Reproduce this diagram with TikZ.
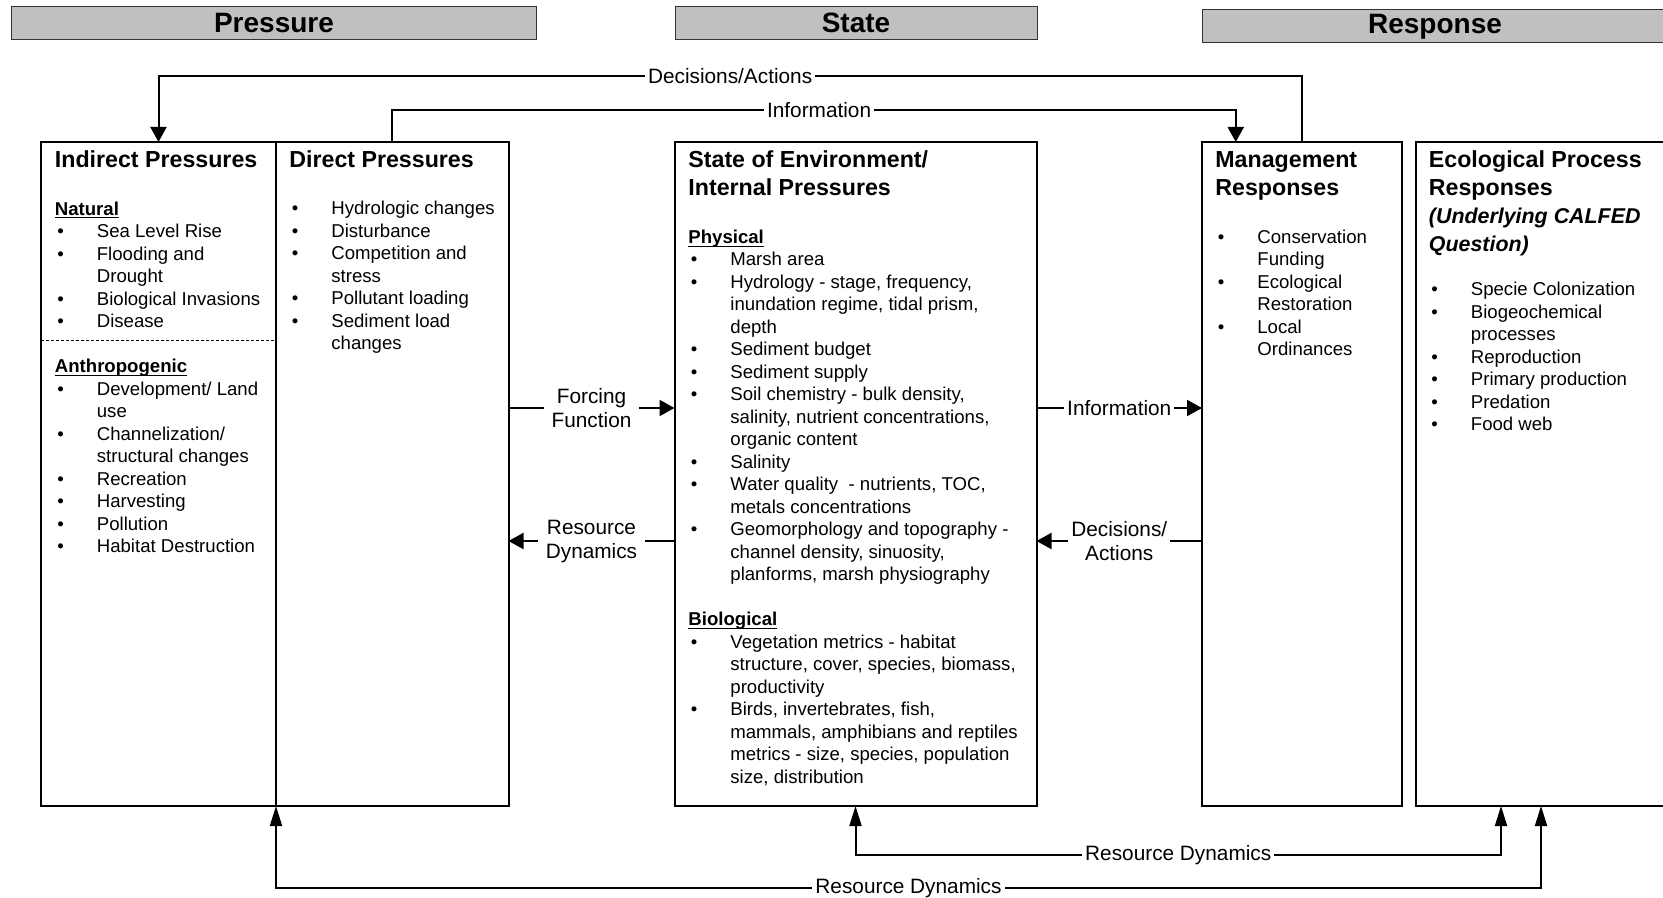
\documentclass[tikz,border=0pt]{standalone}
\usepackage{fontspec}
\setmainfont{Liberation Sans}
\usepackage{xcolor}
\usetikzlibrary{arrows.meta, positioning}

\definecolor{barGray}{HTML}{C0C0C0}

\newcommand{\bodyfont}{\fontsize{9.3}{11.25}\selectfont}
\newcommand{\titlefont}{\fontsize{11.6}{13.85}\selectfont\bfseries}
\newcommand{\notefont}{\fontsize{10.7}{13.85}\selectfont\bfseries\itshape}
\newcommand{\barfont}{\fontsize{14}{16}\selectfont\bfseries}
\newcommand{\lblfont}{\fontsize{10.4}{12}\selectfont}
\newcommand{\bitem}[1]{\hspace*{1.2pt}\makebox[19.8pt][l]{\textbullet}#1}
\newcommand{\bcont}[1]{\hspace*{21pt}#1}
\newcommand{\subhead}[1]{\underline{\smash{\textbf{#1}}}}

\tikzstyle{panel} = [rectangle, draw=black, line width=1pt, outer sep=0pt, inner sep=0pt, minimum height=332pt]
\tikzstyle{bar} = [rectangle, draw=black!80, line width=0.5pt, fill=barGray, minimum height=16.5pt, inner sep=0pt, anchor=north west, font=\barfont]
% multi-line text: base anchor sits on the last line
\tikzstyle{heading} = [anchor=base west, inner sep=0pt, align=left, font=\titlefont]
\tikzstyle{txt} = [anchor=base west, inner sep=0pt, align=left, font=\bodyfont]
\tikzstyle{arrow} = [line width=1pt, -{Triangle[length=7.5pt,width=8pt]}]
\tikzstyle{uparrows} = [line width=1pt, {Triangle[length=10pt,width=6pt]}-{Triangle[length=10pt,width=6pt]}]
\tikzstyle{lbl} = [fill=white, inner xsep=1.5pt, inner ysep=1pt, font=\lblfont, align=center]

\begin{document}
\begin{tikzpicture}[x=0.5pt, y=-0.5pt]
    \useasboundingbox (0,0) rectangle (1663,898);

    % Column headers
    \node[bar, minimum width=262.5pt] (pbar) at (11,6) {Pressure};
    \node[bar, minimum width=181pt] (sbar) at (674.5,6) {State};
    \node[bar, minimum width=232.5pt] (rbar) at (1202,9.5) {Response};

    % Panels
    \node[panel, minimum width=117.5pt, anchor=north west] (ind) at (41,142) {};
    \node[panel, minimum width=116.25pt, right=0pt of ind] (dir) {};
    \node[panel, minimum width=181pt, right=83pt of dir] (st) {};
    \node[panel, minimum width=99.75pt, right=82.75pt of st] (mg) {};
    \node[panel, minimum width=125.5pt, right=7pt of mg] (eco) {};

    \coordinate (split) at (0,341);
    \draw[dash pattern=on 1.5pt off 1pt, line width=0.5pt] (ind.west |- split) -- (ind.east |- split);

    % Panel texts
    \node[heading] (indT) at (54.5,168) {Indirect Pressures};
    \node[txt] (indL) at (54.5,552.5) {\subhead{Natural}\\
        \bitem{Sea Level Rise}\\
        \bitem{Flooding and}\\
        \bcont{Drought}\\
        \bitem{Biological Invasions}\\
        \bitem{Disease}\\[11.25pt]
        \subhead{Anthropogenic}\\
        \bitem{Development/ Land}\\
        \bcont{use}\\
        \bitem{Channelization/}\\
        \bcont{structural changes}\\
        \bitem{Recreation}\\
        \bitem{Harvesting}\\
        \bitem{Pollution}\\
        \bitem{Habitat Destruction}};

    \node[heading] (dirT) at (289,168) {Direct Pressures};
    \node[txt] (dirL) at (289,350) {\bitem{Hydrologic changes}\\
        \bitem{Disturbance}\\
        \bitem{Competition and}\\
        \bcont{stress}\\
        \bitem{Pollutant loading}\\
        \bitem{Sediment load}\\
        \bcont{changes}};

    \node[heading] (stT) at (688,195.7) {State of Environment/\\Internal Pressures};
    \node[txt] (stL) at (688,783.3) {\subhead{Physical}\\
        \bitem{Marsh area}\\
        \bitem{Hydrology - stage, frequency,}\\
        \bcont{inundation regime, tidal prism,}\\
        \bcont{depth}\\
        \bitem{Sediment budget}\\
        \bitem{Sediment supply}\\
        \bitem{Soil chemistry - bulk density,}\\
        \bcont{salinity, nutrient concentrations,}\\
        \bcont{organic content}\\
        \bitem{Salinity}\\
        \bitem{Water quality~ - nutrients, TOC,}\\
        \bcont{metals concentrations}\\
        \bitem{Geomorphology and topography -}\\
        \bcont{channel density, sinuosity,}\\
        \bcont{planforms, marsh physiography}\\[11.25pt]
        \subhead{Biological}\\
        \bitem{Vegetation metrics - habitat}\\
        \bcont{structure, cover, species, biomass,}\\
        \bcont{productivity}\\
        \bitem{Birds, invertebrates, fish,}\\
        \bcont{mammals, amphibians and reptiles}\\
        \bcont{metrics - size, species, population}\\
        \bcont{size, distribution}};

    \node[heading] (mgT) at (1215,195.7) {Management\\Responses};
    \node[txt] (mgL) at (1215,355.8) {\bitem{Conservation}\\
        \bcont{Funding}\\
        \bitem{Ecological}\\
        \bcont{Restoration}\\
        \bitem{Local}\\
        \bcont{Ordinances}};

    \node[heading] (ecoT) at (1428.5,251.1) {Ecological Process\\Responses\\
        {\notefont (Underlying CALFED}\\{\notefont Question)}};
    \node[txt] (ecoL) at (1428.5,430.7) {\bitem{Specie Colonization}\\
        \bitem{Biogeochemical}\\
        \bcont{processes}\\
        \bitem{Reproduction}\\
        \bitem{Primary production}\\
        \bitem{Predation}\\
        \bitem{Food web}};

    % Side connections
    \draw[arrow] ([yshift=33pt]dir.east) -- node[lbl, inner xsep=4pt] {Forcing\\Function} ([yshift=33pt]st.west);
    \draw[arrow] ([yshift=-33.5pt]st.west) -- node[lbl, inner xsep=4pt] {Resource\\Dynamics} ([yshift=-33.5pt]dir.east);
    \draw[arrow] ([yshift=33pt]st.east) -- node[lbl] {Information} ([yshift=33pt]mg.west);
    \draw[arrow] ([yshift=-33.5pt]mg.west) -- node[lbl] {Decisions/\\Actions} ([yshift=-33.5pt]st.east);

    % Feedback loops over the top
    \coordinate (railDA) at (0,76);
    \coordinate (railInfo) at (0,110);
    \draw[arrow] (mg.north) -- (mg.north |- railDA) -| node[lbl, pos=0.25] {Decisions/Actions} (ind.north);
    \draw[arrow] (dir.north) -- (dir.north |- railInfo) -| node[lbl, pos=0.253] {Information} ([xshift=-33pt]mg.north);

    % Loops underneath
    \coordinate (railRD1) at (0,855);
    \coordinate (railRD2) at (0,888);
    \draw[uparrows] (st.south) -- (st.south |- railRD1) -| node[lbl, pos=0.25] {Resource Dynamics} ([xshift=-20pt]eco.south);
    \draw[uparrows] (ind.south east) -- (ind.south east |- railRD2) -| node[lbl, pos=0.25] {Resource Dynamics} (eco.south);

\end{tikzpicture}
\end{document}
